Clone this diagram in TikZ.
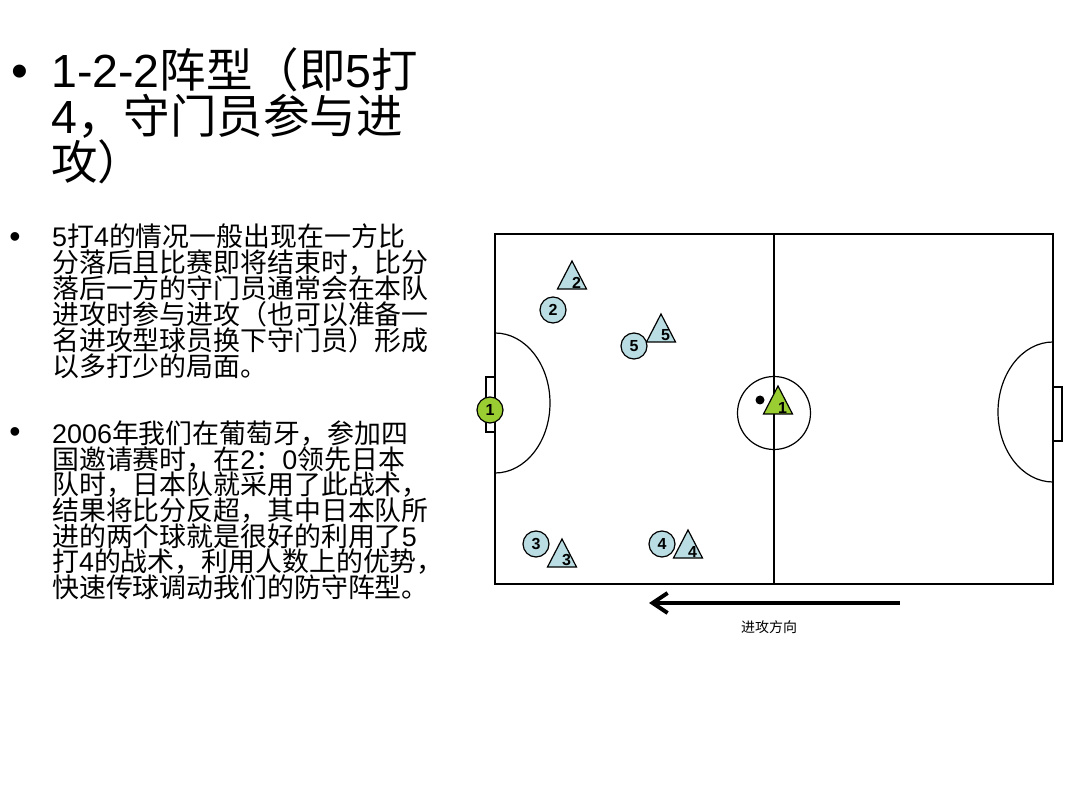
\documentclass[tikz,border=0pt]{standalone}
\usepackage{fontspec}
\setmainfont{Noto Sans CJK SC}
\newfontfamily\latin{Liberation Sans}
\usetikzlibrary{arrows.meta}
\definecolor{pblue}{RGB}{185,221,226}
\definecolor{pgreen}{RGB}{154,205,50}
\newcommand\la[1]{{\latin #1}}
\newcommand\playertri[5]{%
  \draw[tri, fill=#5] (#2,#3) -- ++(-14.5,28) -- ++(29,0) -- cycle;
  \node[num] (#1) at (#2+4.5,#3+21.5) {#4};}
\begin{document}
\begin{tikzpicture}[x=1pt,y=-1pt,
  titleline/.style={anchor=base west, inner sep=0pt, font=\fontsize{46.5}{46}\selectfont},
  bodyline/.style={anchor=base west, inner sep=0pt, font=\fontsize{26.9}{26}\selectfont},
  bigbullet/.style={inner sep=0pt, font=\latin\fontsize{48}{48}\selectfont},
  smallbullet/.style={inner sep=0pt, font=\latin\fontsize{32}{32}\selectfont},
  field/.style={line width=1.5pt, draw=black},
  thin/.style={line width=1.2pt, draw=black},
  num/.style={inner sep=0pt, font=\latin\bfseries\fontsize{16}{16}\selectfont},
  circ/.style={circle, draw=black, line width=1.2pt, minimum size=26pt, inner sep=0pt, font=\latin\bfseries\fontsize{16}{16}\selectfont},
  tri/.style={draw=black, line width=1.2pt, line join=miter},
  arrowline/.style={line width=4pt, -{Straight Barb[length=15pt,width=20pt]}},
  caption/.style={inner sep=0pt, font=\fontsize{14}{14}\selectfont}
]
\useasboundingbox (0,0) rectangle (1080,810);
\fill[white] (0,0) rectangle (1080,810);

% ---- title ----
\node[bigbullet] (b0) at (20,76) {•};
\node[titleline] (t1) at (51,88) {\la{1-2-2}阵型（即\la{5}打};
\node[titleline] (t2) at (51,134) {\la{4}，守门员参与进};
\node[titleline] (t3) at (51,180) {攻）};

% ---- paragraph 1 ----
\node[smallbullet] (b1) at (15,240) {•};
\node[bodyline] (p1) at (52,247) {\la{5}打\la{4}的情况一般出现在一方比};
\node[bodyline] (p2) at (52,273) {分落后且比赛即将结束时，比分};
\node[bodyline] (p3) at (52,299) {落后一方的守门员通常会在本队};
\node[bodyline] (p4) at (52,325) {进攻时参与进攻（也可以准备一};
\node[bodyline] (p5) at (52,351) {名进攻型球员换下守门员）形成};
\node[bodyline] (p6) at (52,377) {以多打少的局面。};

% ---- paragraph 2 ----
\node[smallbullet] (b2) at (15,435) {•};
\node[bodyline] (q1) at (52,443) {\la{2006}年我们在葡萄牙，参加四};
\node[bodyline] (q2) at (52,469) {国邀请赛时，在\la{2}：\la{0}领先日本};
\node[bodyline] (q3) at (52,494) {队时，日本队就采用了此战术，};
\node[bodyline] (q4) at (52,520) {结果将比分反超，其中日本队所};
\node[bodyline] (q5) at (52,546) {进的两个球就是很好的利用了\la{5}};
\node[bodyline] (q6) at (52,571) {打\la{4}的战术，利用人数上的优势，};
\node[bodyline] (q7) at (52,597) {快速传球调动我们的防守阵型。};

% ---- pitch ----
\draw[field] (495,234) rectangle (1053,584);
\draw[field] (774,234) -- (774,584);
\draw[thin] (774,413) circle[radius=36.5];
\draw[thin] (495,333) arc[start angle=-90, end angle=90, x radius=55, y radius=70];
\draw[thin] (1053,342) arc[start angle=270, end angle=90, x radius=55, y radius=70];
\draw[thin] (486,377) rectangle (495,432);
\draw[thin] (1053,387) rectangle (1062,441);

% ---- ball ----
\fill[black] (760,400) circle[radius=4.5];

% ---- players ----
\playertri{tr2}{572}{261}{2}{pblue}
\playertri{tr5}{661}{314}{5}{pblue}
\playertri{tr3}{562}{539}{3}{pblue}
\playertri{tr4}{688}{530}{4}{pblue}
\playertri{tr1}{778}{386}{1}{pgreen}

\node[circ, fill=pgreen] (c1) at (490,410) {1};
\node[circ, fill=pblue] (c2) at (553,310) {2};
\node[circ, fill=pblue] (c5) at (634,346) {5};
\node[circ, fill=pblue] (c3) at (536,544) {3};
\node[circ, fill=pblue] (c4) at (662,544) {4};

% ---- direction arrow ----
\coordinate (aS) at (900,603);
\coordinate (aE) at (649,603);
\draw[arrowline] (aS) -- (aE);
\node[caption] (cap) at (769,627) {进攻方向};
\end{tikzpicture}
\end{document}
